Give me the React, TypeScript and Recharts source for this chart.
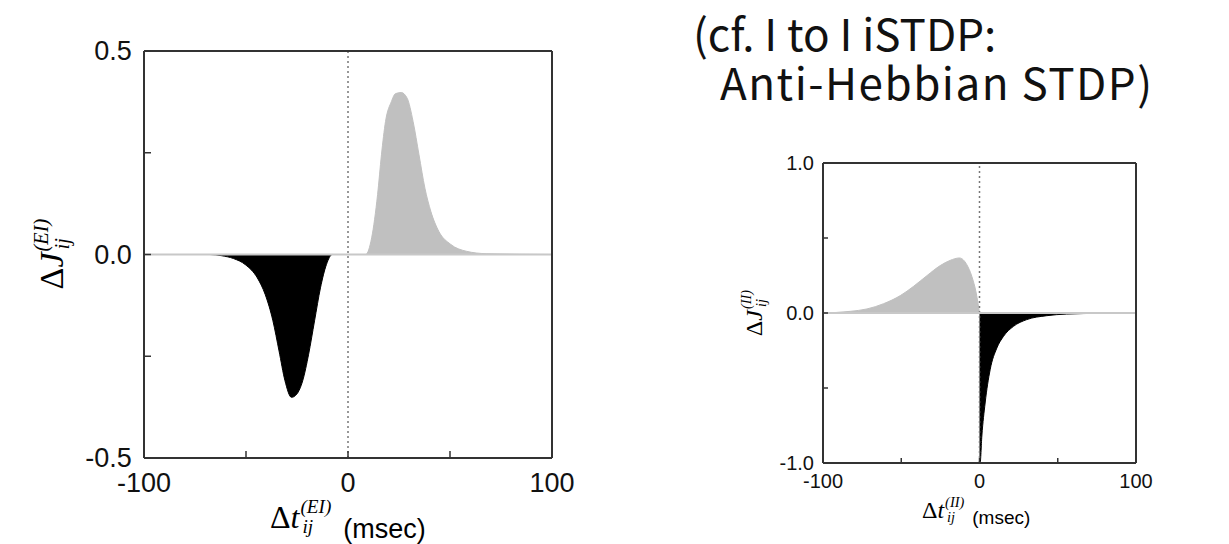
import React from 'react';
import { ComposedChart, Area, XAxis, YAxis, ReferenceLine } from 'recharts';

// E -> I iSTDP window (left panel)
const eiPosTime = [0, 8.7, 11.6, 14.5, 16.4, 18.4, 21.3, 23.2, 26.1, 29.0, 31.9, 34.8, 37.7, 40.6, 44.5, 50.3, 58, 67.7, 100];
const eiPosValue = [0, 0, 0.041, 0.147, 0.245, 0.327, 0.376, 0.395, 0.398, 0.384, 0.327, 0.245, 0.163, 0.106, 0.057, 0.025, 0.008, 0.002, 0];
const eiNegTime = [-100, -67.7, -61.9, -56.1, -50.3, -44.5, -40.6, -36.8, -33.8, -30.9, -27.7, -25.1, -22.2, -19.3, -16.4, -13.5, -10.6, -7.7, 0];
const eiNegValue = [0, 0, -0.003, -0.01, -0.025, -0.057, -0.098, -0.163, -0.237, -0.31, -0.351, -0.343, -0.31, -0.245, -0.163, -0.082, -0.025, 0, 0];

// I -> I iSTDP window (right panel, anti-Hebbian)
const iiPosTime = [-100, -82.6, -71.9, -61.3, -50.6, -42.1, -33.6, -25.1, -18.7, -12.8, -8.1, -4.9, -2.1, 0];
const iiPosValue = [0, 0.011, 0.027, 0.062, 0.116, 0.178, 0.249, 0.316, 0.351, 0.367, 0.322, 0.244, 0.133, 0];
const iiNegTime = [0, 0.4, 1.5, 3.6, 6.8, 11.1, 15.3, 21.7, 30.2, 43, 55.7, 77, 100];
const iiNegValue = [-1, -1, -0.82, -0.6, -0.378, -0.233, -0.156, -0.089, -0.044, -0.018, -0.007, -0.002, 0];

const xTicks = [-100, -50, 0, 50, 100];
const xMajor = [-100, 0, 100];
const eiYTicks = [-0.5, -0.25, 0, 0.25, 0.5];
const eiYMajor = [-0.5, 0, 0.5];
const iiYTicks = [-1, -0.5, 0, 0.5, 1];
const iiYMajor = [-1, 0, 1];

const GRAY = '#c0c0c0';
const FRAME = '#333';
const SANS = '"Liberation Sans", Arial, sans-serif';
const SERIF = '"Liberation Serif", "DejaVu Serif", serif';

const toRows = (ts: number[], vs: number[]) => ts.map((t, i) => ({ t, v: vs[i] }));

interface PanelProps {
  width: number;
  height: number;
  margin: { top: number; right: number; bottom: number; left: number };
  pos: { t: number[]; v: number[] };
  neg: { t: number[]; v: number[] };
  yDomain: [number, number];
  yTicks: number[];
  yMajor: number[];
  fontSize: number;
  tickLen: number;
}

function Panel({ width, height, margin, pos, neg, yDomain, yTicks, yMajor, fontSize, tickLen }: PanelProps) {
  const bottomTick = (p: any) => {
    const { x, y, payload } = p;
    const show = xMajor.includes(payload.value);
    return (
      <g>
        <line x1={x} x2={x} y1={y} y2={y - tickLen} stroke={FRAME} strokeWidth={1.5} />
        {show && (
          <text x={x} y={y + fontSize * 0.55} textAnchor="middle" dominantBaseline="hanging"
            fontFamily={SANS} fontSize={fontSize} fill="#111">
            {payload.value}
          </text>
        )}
      </g>
    );
  };
  const leftTick = (p: any) => {
    const { x, y, payload } = p;
    const show = yMajor.includes(payload.value);
    return (
      <g>
        <line x1={x} x2={x + tickLen} y1={y} y2={y} stroke={FRAME} strokeWidth={1.5} />
        {show && (
          <text x={x - fontSize * 0.45} y={y} textAnchor="end" dominantBaseline="central"
            fontFamily={SANS} fontSize={fontSize} fill="#111">
            {payload.value.toFixed(1)}
          </text>
        )}
      </g>
    );
  };
  const rightTick = (p: any) => {
    const { x, y } = p;
    return <line x1={x} x2={x - tickLen} y1={y} y2={y} stroke={FRAME} strokeWidth={1.5} />;
  };

  return (
    <ComposedChart width={width} height={height} margin={margin}>
      <XAxis dataKey="t" type="number" domain={[-100, 100]} ticks={xTicks} height={1}
        tickSize={0} tickMargin={0} axisLine={{ stroke: FRAME, strokeWidth: 2 }} tick={bottomTick}
        allowDataOverflow />
      <XAxis xAxisId="top" orientation="top" type="number" domain={[-100, 100]} height={1}
        tick={false} tickLine={false} axisLine={{ stroke: FRAME, strokeWidth: 2 }} />
      <YAxis type="number" domain={yDomain} ticks={yTicks} width={1} tickSize={0} tickMargin={0}
        axisLine={{ stroke: FRAME, strokeWidth: 2 }} tick={leftTick} allowDataOverflow />
      <YAxis yAxisId="right" orientation="right" type="number" domain={yDomain} ticks={yTicks}
        width={1} tickSize={0} tickMargin={0} axisLine={{ stroke: FRAME, strokeWidth: 2 }} tick={rightTick} />
      <ReferenceLine x={0} stroke="#777" strokeDasharray="2 3" strokeWidth={1.5} />
      <Area data={toRows(pos.t, pos.v)} dataKey="v" type="monotone" baseValue={0}
        fill={GRAY} fillOpacity={1} stroke={GRAY} strokeWidth={1} isAnimationActive={false} />
      <Area data={toRows(neg.t, neg.v)} dataKey="v" type="monotone" baseValue={0}
        fill="#000" fillOpacity={1} stroke="#000" strokeWidth={1} isAnimationActive={false} />
      <ReferenceLine y={0} stroke="#c8c8c8" strokeWidth={2} />
    </ComposedChart>
  );
}

function Symbol({ letter, sup, sub, size }: { letter: string; sup: string; sub: string; size: number }) {
  return (
    <span style={{ fontFamily: SERIF, fontSize: size, display: 'inline-flex', alignItems: 'center', lineHeight: 1 }}>
      <span>Δ</span>
      <span style={{ fontStyle: 'italic' }}>{letter}</span>
      <span style={{ display: 'inline-flex', flexDirection: 'column', fontSize: size * 0.6, fontStyle: 'italic', lineHeight: 1.05, marginLeft: 1 }}>
        <span>{sup}</span>
        <span style={{ paddingLeft: 2 }}>{sub}</span>
      </span>
    </span>
  );
}

const NOTE_FONT = '"Noto Sans CJK KR", "Noto Sans", sans-serif';

export default function App() {
  return (
    <div style={{ position: 'absolute', left: 0, top: 0, width: 1229, height: 544, background: '#fff', overflow: 'hidden' }}>
      <div style={{ position: 'absolute', left: 0, top: 0 }}>
        <Panel width={600} height={544} margin={{ top: 50, right: 47, bottom: 85, left: 143 }}
          pos={{ t: eiPosTime, v: eiPosValue }} neg={{ t: eiNegTime, v: eiNegValue }}
          yDomain={[-0.5, 0.5]} yTicks={eiYTicks} yMajor={eiYMajor} fontSize={27} tickLen={7} />
      </div>
      <div style={{ position: 'absolute', left: 700, top: 140 }}>
        <Panel width={529} height={404} margin={{ top: 22, right: 92, bottom: 80, left: 122 }}
          pos={{ t: iiPosTime, v: iiPosValue }} neg={{ t: iiNegTime, v: iiNegValue }}
          yDomain={[-1, 1]} yTicks={iiYTicks} yMajor={iiYMajor} fontSize={20} tickLen={5} />
      </div>

      {/* left axis titles */}
      <div style={{ position: 'absolute', left: 52, top: 254, transform: 'translate(-50%, -50%) rotate(-90deg)', whiteSpace: 'nowrap' }}>
        <Symbol letter="J" sup="(EI)" sub="ij" size={34} />
      </div>
      <div style={{ position: 'absolute', left: 270, top: 497, display: 'flex', alignItems: 'flex-start', whiteSpace: 'nowrap' }}>
        <Symbol letter="t" sup="(EI)" sub="ij" size={32} />
        <span style={{ fontFamily: SANS, fontSize: 27, marginLeft: 12, marginTop: 17 }}>(msec)</span>
      </div>

      {/* right axis titles */}
      <div style={{ position: 'absolute', left: 754, top: 313, transform: 'translate(-50%, -50%) rotate(-90deg)', whiteSpace: 'nowrap' }}>
        <Symbol letter="J" sup="(II)" sub="ij" size={24} />
      </div>
      <div style={{ position: 'absolute', left: 922, top: 495, display: 'flex', alignItems: 'flex-start', whiteSpace: 'nowrap' }}>
        <Symbol letter="t" sup="(II)" sub="ij" size={24} />
        <span style={{ fontFamily: SANS, fontSize: 19, marginLeft: 8, marginTop: 12 }}>(msec)</span>
      </div>

      <div style={{ position: 'absolute', left: 693, top: 8, fontFamily: NOTE_FONT, fontSize: 44, lineHeight: '48px', color: '#111', whiteSpace: 'nowrap' }}>
        (cf. I to I iSTDP:
      </div>
      <div style={{ position: 'absolute', left: 720, top: 57, fontFamily: NOTE_FONT, fontSize: 44, lineHeight: '48px', letterSpacing: 1.5, color: '#111', whiteSpace: 'nowrap' }}>
        Anti-Hebbian STDP)
      </div>
    </div>
  );
}
